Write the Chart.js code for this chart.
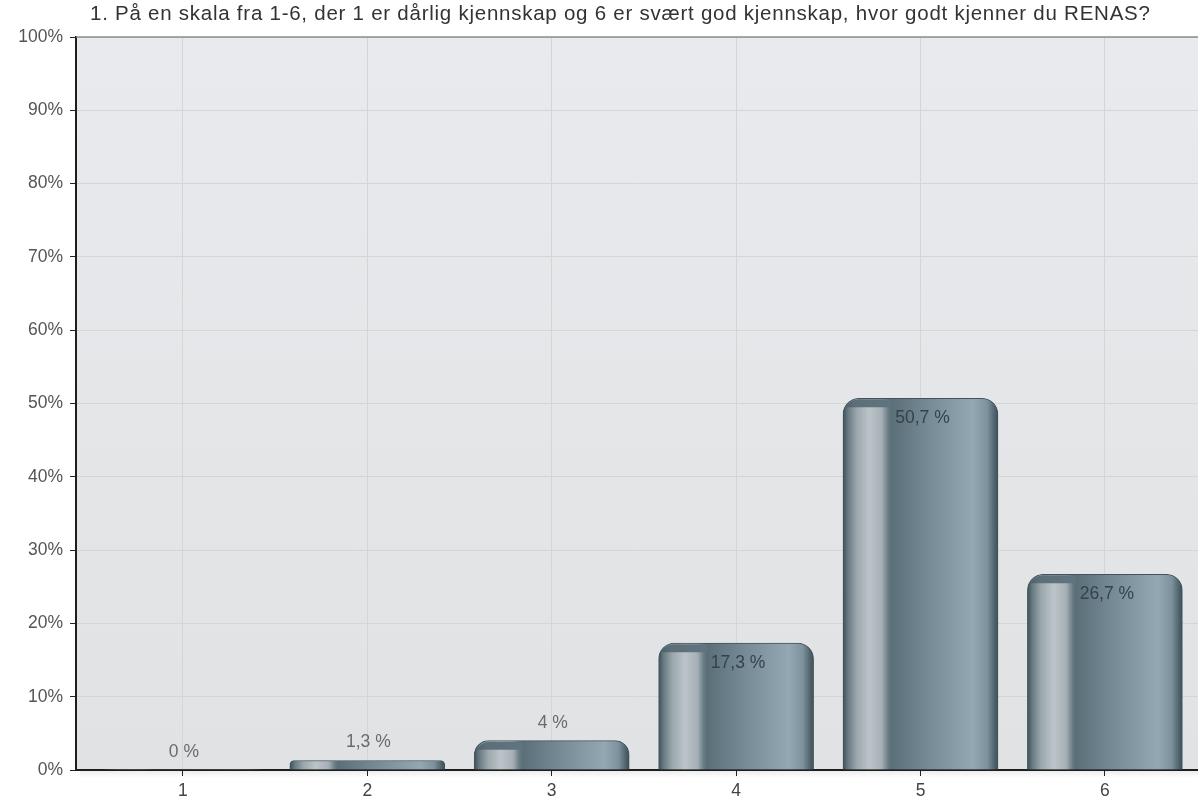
<!DOCTYPE html>
<html lang="no">
<head>
    <meta charset="UTF-8">
    <title>RENAS kjennskap</title>
    <script src="https://cdn.jsdelivr.net/npm/chart.js"></script>
    <style>
        html, body { margin: 0; padding: 0; background: #fff; overflow: hidden; }
        #wrap { width: 1198px; height: 801px; }
    </style>
</head>
<body>
    <div id="wrap"><canvas id="surveyChart" width="1198" height="801"></canvas></div>

    <script>
        // Data
        const chartTitle = '1. På en skala fra 1-6, der 1 er dårlig kjennskap og 6 er svært god kjennskap, hvor godt kjenner du RENAS?';
        const categories = ['1', '2', '3', '4', '5', '6'];
        const percentages = [0, 1.3, 4, 17.3, 50.7, 26.7];
        const yTickValues = [0, 10, 20, 30, 40, 50, 60, 70, 80, 90, 100];

        const BAR_W = 155;
        const RADIUS = 16;
        const FONT = '"Liberation Sans", Arial, Helvetica, sans-serif';

        // cylinder-like shading across each bar
        function barShade(c) {
            const chart = c.chart;
            const xs = chart.scales && chart.scales.x;
            if (!xs || !chart.chartArea || c.dataIndex === undefined) return '#6f838d';
            const cx = xs.getPixelForValue(Number(categories[c.dataIndex]));
            const g = chart.ctx.createLinearGradient(cx - BAR_W / 2, 0, cx + BAR_W / 2, 0);
            g.addColorStop(0.00, '#3c4e57');
            g.addColorStop(0.03, '#66787f');
            g.addColorStop(0.09, '#9ca8ae');
            g.addColorStop(0.17, '#bcc4c8');
            g.addColorStop(0.25, '#a5b0b6');
            g.addColorStop(0.29, '#6a7d86');
            g.addColorStop(0.31, '#5b6f79');
            g.addColorStop(0.55, '#758a95');
            g.addColorStop(0.84, '#93a8b3');
            g.addColorStop(0.93, '#7d929c');
            g.addColorStop(0.98, '#4e616a');
            g.addColorStop(1.00, '#3c4e57');
            return g;
        }

        const plotBackground = {
            id: 'plotBackground',
            beforeDraw(chart) {
                const { ctx, chartArea: a } = chart;
                const g = ctx.createLinearGradient(0, a.top, 0, a.bottom);
                g.addColorStop(0, '#e8eaed');
                g.addColorStop(1, '#e1e2e4');
                ctx.save();
                ctx.fillStyle = g;
                ctx.fillRect(a.left, a.top, a.right - a.left, a.bottom - a.top);
                // soft shadow under the x axis
                const s = ctx.createLinearGradient(0, a.bottom + 1, 0, a.bottom + 8);
                s.addColorStop(0, 'rgba(0,0,0,0.07)');
                s.addColorStop(1, 'rgba(0,0,0,0)');
                ctx.fillStyle = s;
                ctx.fillRect(a.left + 4, a.bottom + 1, a.right - a.left - 4, 7);
                ctx.restore();
            },
            afterDraw(chart) {
                const { ctx, chartArea: a } = chart;
                ctx.save();
                // top frame line
                ctx.strokeStyle = '#8a8c8e';
                ctx.lineWidth = 1.5;
                ctx.beginPath();
                ctx.moveTo(a.left, a.top);
                ctx.lineTo(a.right, a.top);
                ctx.stroke();
                // title
                ctx.fillStyle = '#333';
                ctx.font = '20.5px ' + FONT;
                ctx.letterSpacing = '0.75px';
                ctx.textBaseline = 'middle';
                ctx.textAlign = 'left';
                ctx.fillText(chartTitle, 90, 14);
                ctx.restore();
            }
        };

        // darker cap over the highlight column, and the value labels
        const valueLabels = {
            id: 'valueLabels',
            afterDatasetsDraw(chart) {
                const { ctx } = chart;
                const meta = chart.getDatasetMeta(0);
                ctx.save();
                meta.data.forEach((bar) => {
                    const h = bar.base - bar.y;
                    if (h < 14) return;
                    const x0 = bar.x - BAR_W / 2;
                    ctx.save();
                    ctx.beginPath();
                    ctx.roundRect(x0 + 1, bar.y + 1, BAR_W - 2, h, [RADIUS - 1, RADIUS - 1, 0, 0]);
                    ctx.clip();
                    const cap = ctx.createLinearGradient(x0, 0, x0 + BAR_W * 0.3, 0);
                    cap.addColorStop(0, '#4a5c65');
                    cap.addColorStop(0.25, '#5c6f78');
                    cap.addColorStop(1, '#607480');
                    ctx.fillStyle = cap;
                    ctx.beginPath();
                    ctx.roundRect(x0, bar.y, BAR_W * 0.3 + 2, 9, [0, 0, 0, 0]);
                    ctx.fill();
                    ctx.restore();
                });
                ctx.font = '17.5px ' + FONT;
                ctx.textAlign = 'center';
                ctx.textBaseline = 'middle';
                meta.data.forEach((bar, i) => {
                    const v = percentages[i];
                    const txt = String(v).replace('.', ',') + ' %';
                    if (v >= 10) {
                        ctx.fillStyle = '#34434a';
                        ctx.fillText(txt, bar.x + 2, bar.y + 20);
                    } else {
                        ctx.fillStyle = '#6b6b6b';
                        ctx.fillText(txt, bar.x + 1, bar.y - 18);
                    }
                });
                ctx.restore();
            }
        };

        const ctx = document.getElementById('surveyChart').getContext('2d');
        new Chart(ctx, {
            type: 'bar',
            data: {
                datasets: [{
                    data: categories.map((c, i) => ({ x: Number(c), y: percentages[i] })),
                    backgroundColor: barShade,
                    borderColor: '#41535c',
                    borderWidth: (c) => (percentages[c.dataIndex] > 0 ? 1 : 0),
                    borderSkipped: 'bottom',
                    borderRadius: { topLeft: RADIUS, topRight: RADIUS, bottomLeft: 0, bottomRight: 0 },
                    barThickness: BAR_W
                }]
            },
            options: {
                responsive: false,
                animation: false,
                layout: { padding: { top: 37, left: 0, right: 0, bottom: 0 } },
                plugins: {
                    legend: { display: false },
                    title: { display: false },
                    tooltip: { enabled: false }
                },
                scales: {
                    x: {
                        type: 'linear',
                        offset: false,
                        min: 0.42,
                        max: 6.505,
                        afterBuildTicks: (s) => {
                            s.ticks = categories.map((c) => ({ value: Number(c) }));
                        },
                        afterFit: (s) => { s.height = 31; },
                        ticks: {
                            callback: (v) => categories[v - 1] || '',
                            color: '#444',
                            font: { family: FONT, size: 17.5 },
                            padding: 5,
                            maxRotation: 0,
                            autoSkip: false
                        },
                        grid: { offset: false, color: '#d3d5d7', tickColor: '#222', tickLength: 6, lineWidth: 1 },
                        border: { color: '#1e1e1e', width: 2 }
                    },
                    y: {
                        min: 0,
                        max: 100,
                        afterBuildTicks: (s) => {
                            s.ticks = yTickValues.map((v) => ({ value: v }));
                        },
                        afterFit: (s) => { s.width = 76; },
                        ticks: {
                            callback: (v) => v + '%',
                            color: '#555',
                            font: { family: FONT, size: 17.5 },
                            padding: 7
                        },
                        grid: { color: '#d3d5d7', tickColor: '#222', tickLength: 6, lineWidth: 1 },
                        border: { color: '#1e1e1e', width: 2 }
                    }
                }
            },
            plugins: [plotBackground, valueLabels]
        });
    </script>
</body>
</html>
